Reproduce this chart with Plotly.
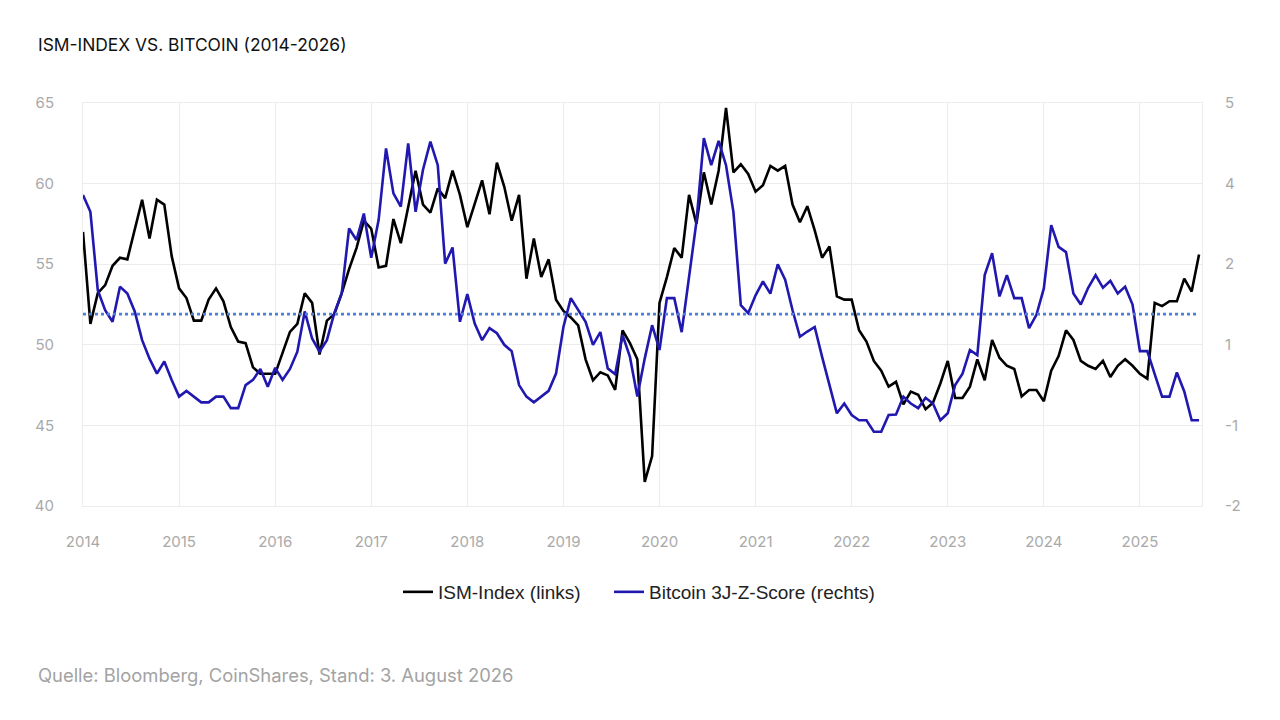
import plotly.graph_objects as go

# ISM manufacturing index (left axis), monthly from Dec 2013 to Jul 2026
ism = [57.0, 51.3, 53.2, 53.7, 54.9, 55.4, 55.3, 57.1, 59.0, 56.6, 59.0, 58.7, 55.5,
       53.5, 52.9, 51.5, 51.5, 52.8, 53.5, 52.7, 51.1, 50.2, 50.1, 48.6, 48.2,
       48.2, 48.2, 49.5, 50.8, 51.3, 53.2,
       52.6, 49.4, 51.5, 51.9, 53.2, 54.7, 56.0, 57.7, 57.2, 54.8,
       54.9, 57.8, 56.3, 58.6, 60.8, 58.7, 58.2, 59.7, 59.1, 60.8,
       59.3, 57.3, 58.7, 60.2, 58.1, 61.3, 59.8, 57.7, 59.3, 54.1,
       56.6, 54.2, 55.3, 52.8, 52.1, 51.7, 51.2, 49.1, 47.8, 48.3, 48.1, 47.2,
       50.9, 50.1, 49.1, 41.5, 43.1, 52.6, 54.2, 56.0, 55.4, 59.3, 57.5, 60.7,
       58.7, 60.8, 64.7, 60.7, 61.2, 60.6, 59.5, 59.9, 61.1, 60.8, 61.1, 58.7,
       57.6, 58.6, 57.1, 55.4, 56.1, 53.0, 52.8, 52.8, 50.9, 50.2, 49.0, 48.4,
       47.4, 47.7, 46.3, 47.1, 46.9, 46.0, 46.4, 47.6, 49.0, 46.7, 46.7, 47.4,
       49.1, 47.8, 50.3, 49.2, 48.7, 48.5, 46.8, 47.2, 47.2, 46.5, 48.4, 49.3,
       50.9, 50.3, 49.0, 48.7, 48.5, 49.0, 48.0, 48.7, 49.1, 48.7, 48.2, 47.9,
       52.6, 52.4, 52.7, 52.7, 54.1, 53.3, 55.6]

# Bitcoin 3-year Z-score (right axis)
btc = [3.40, 3.11, 1.75, 1.40, 1.20, 1.81, 1.69, 1.38, 0.88, 0.56, 0.30, 0.51, 0.19,
       -0.10, 0.00, -0.10, -0.20, -0.20, -0.10, -0.10, -0.30, -0.30, 0.10, 0.19, 0.38,
       0.07, 0.40, 0.19, 0.38, 0.68, 1.38,
       0.91, 0.68, 0.88, 1.35, 1.69, 2.82, 2.62, 3.08, 2.31, 2.97,
       4.21, 3.43, 3.20, 4.30, 3.11, 3.84, 4.33, 3.92, 2.21, 2.49,
       1.20, 1.68, 1.17, 0.88, 1.09, 1.00, 0.80, 0.69, 0.10, -0.10,
       -0.20, -0.10, 0.00, 0.30, 1.11, 1.61, 1.40, 1.20, 0.80, 1.02, 0.39, 0.29,
       0.97, 0.59, -0.10, 0.56, 1.14, 0.71, 1.61, 1.61, 1.02, 1.98, 2.94, 4.39,
       3.92, 4.34, 3.92, 3.11, 1.49, 1.35, 1.66, 1.90, 1.69, 2.20, 1.93, 1.40,
       0.94, 1.03, 1.11, 0.59, 0.10, -0.39, -0.22, -0.42, -0.51, -0.51, -0.71, -0.71,
       -0.42, -0.41, -0.10, -0.22, -0.30, -0.12, -0.22, -0.51, -0.39, 0.10, 0.30, 0.71,
       0.62, 2.01, 2.39, 1.64, 2.01, 1.61, 1.61, 1.09, 1.32, 1.78, 2.88, 2.50,
       2.41, 1.69, 1.50, 1.79, 2.01, 1.79, 1.91, 1.69, 1.81, 1.50, 0.69, 0.69,
       0.29, -0.10, -0.10, 0.32, -0.01, -0.51, -0.51]

year_labels = ["2014", "2015", "2016", "2017", "2018", "2019",
               "2020", "2021", "2022", "2023", "2024", "2025"]
points_per_label = 13
left_ticks = [40, 45, 50, 55, 60, 65]
reference_level = 51.9

idx = list(range(len(ism)))
x_ticks = [i * points_per_label for i in range(len(year_labels))]
right_ticks = [-2 + (v - 40) * 7 / 25 for v in left_ticks]
right_text = [f"{round(v)}" for v in right_ticks]

FONT = "Inter"
TICK_COLOR = "#a9a9a9"
GRID = "#ececec"

# page body has an 8px margin, so the figure is sized to fit the viewport
W, H = 1272, 712
OFF = 8
PL, PT, PR, PB = 83 - OFF, 103 - OFF, 1202 - OFF, 506 - OFF
PW, PH = PR - PL, PB - PT


def px_x(sx):
    return (sx - OFF - PL) / PW


def px_y(sy):
    return (PB - (sy - OFF)) / PH


fig = go.Figure()
fig.add_trace(go.Scatter(x=idx, y=ism, mode="lines", name="ISM-Index (links)",
                         line=dict(color="#000000", width=2.6), yaxis="y", legend="legend"))
fig.add_trace(go.Scatter(x=idx, y=btc, mode="lines", name="Bitcoin 3J-Z-Score (rechts)",
                         line=dict(color="#2118b0", width=2.6), yaxis="y2", legend="legend2"))

fig.add_shape(type="line", xref="x", yref="y", x0=0, x1=idx[-1],
              y0=reference_level, y1=reference_level,
              line=dict(color="#4a80dc", width=2.8, dash="dot"), layer="above")

legend_common = dict(orientation="h", xanchor="left", yanchor="middle", y=px_y(592),
                     font=dict(family="Liberation Sans", size=19, color="#222"),
                     itemwidth=30, bgcolor="rgba(0,0,0,0)")

fig.update_layout(
    width=W, height=H, autosize=False,
    paper_bgcolor="white", plot_bgcolor="white",
    margin=dict(l=PL, r=W - PR, t=PT, b=H - PB, pad=0),
    font=dict(family=FONT, color="#222"),
    title=dict(text="ISM-INDEX VS. BITCOIN (2014-2026)", xref="container", yref="container",
               x=(38 - OFF) / W, y=1 - (45 - OFF) / H, xanchor="left", yanchor="middle",
               font=dict(family=FONT, size=17.4, color="#111")),
    showlegend=True,
    legend=dict(x=px_x(398), **legend_common),
    legend2=dict(x=px_x(609), **legend_common),
    xaxis=dict(range=[0, 151.4], tickmode="array", tickvals=x_ticks, ticktext=year_labels,
               showgrid=True, gridcolor=GRID, gridwidth=1, zeroline=False,
               ticks="outside", ticklen=22, tickcolor="rgba(0,0,0,0)",
               tickfont=dict(family=FONT, size=15, color=TICK_COLOR),
               showline=True, mirror=True, linecolor=GRID, linewidth=1),
    yaxis=dict(range=[40, 65], tickmode="array", tickvals=left_ticks,
               showgrid=True, gridcolor=GRID, gridwidth=1, zeroline=False,
               ticks="outside", ticklen=25, tickcolor="rgba(0,0,0,0)",
               tickfont=dict(family=FONT, size=15, color=TICK_COLOR),
               showline=True, mirror=True, linecolor=GRID, linewidth=1),
    yaxis2=dict(range=[-2, 5], overlaying="y", side="right", tickmode="array",
                tickvals=right_ticks, ticktext=right_text, showgrid=False, zeroline=False,
                ticks="", ticklabelstandoff=22,
                tickfont=dict(family=FONT, size=15, color=TICK_COLOR)),
)

fig.add_annotation(text="Quelle: Bloomberg, CoinShares, Stand: 3. August 2026",
                   xref="paper", yref="paper", x=px_x(36), y=px_y(675),
                   xanchor="left", yanchor="middle", showarrow=False,
                   font=dict(family=FONT, size=18.4, color="#a3a3a3"))

fig.write_html("out.html")
